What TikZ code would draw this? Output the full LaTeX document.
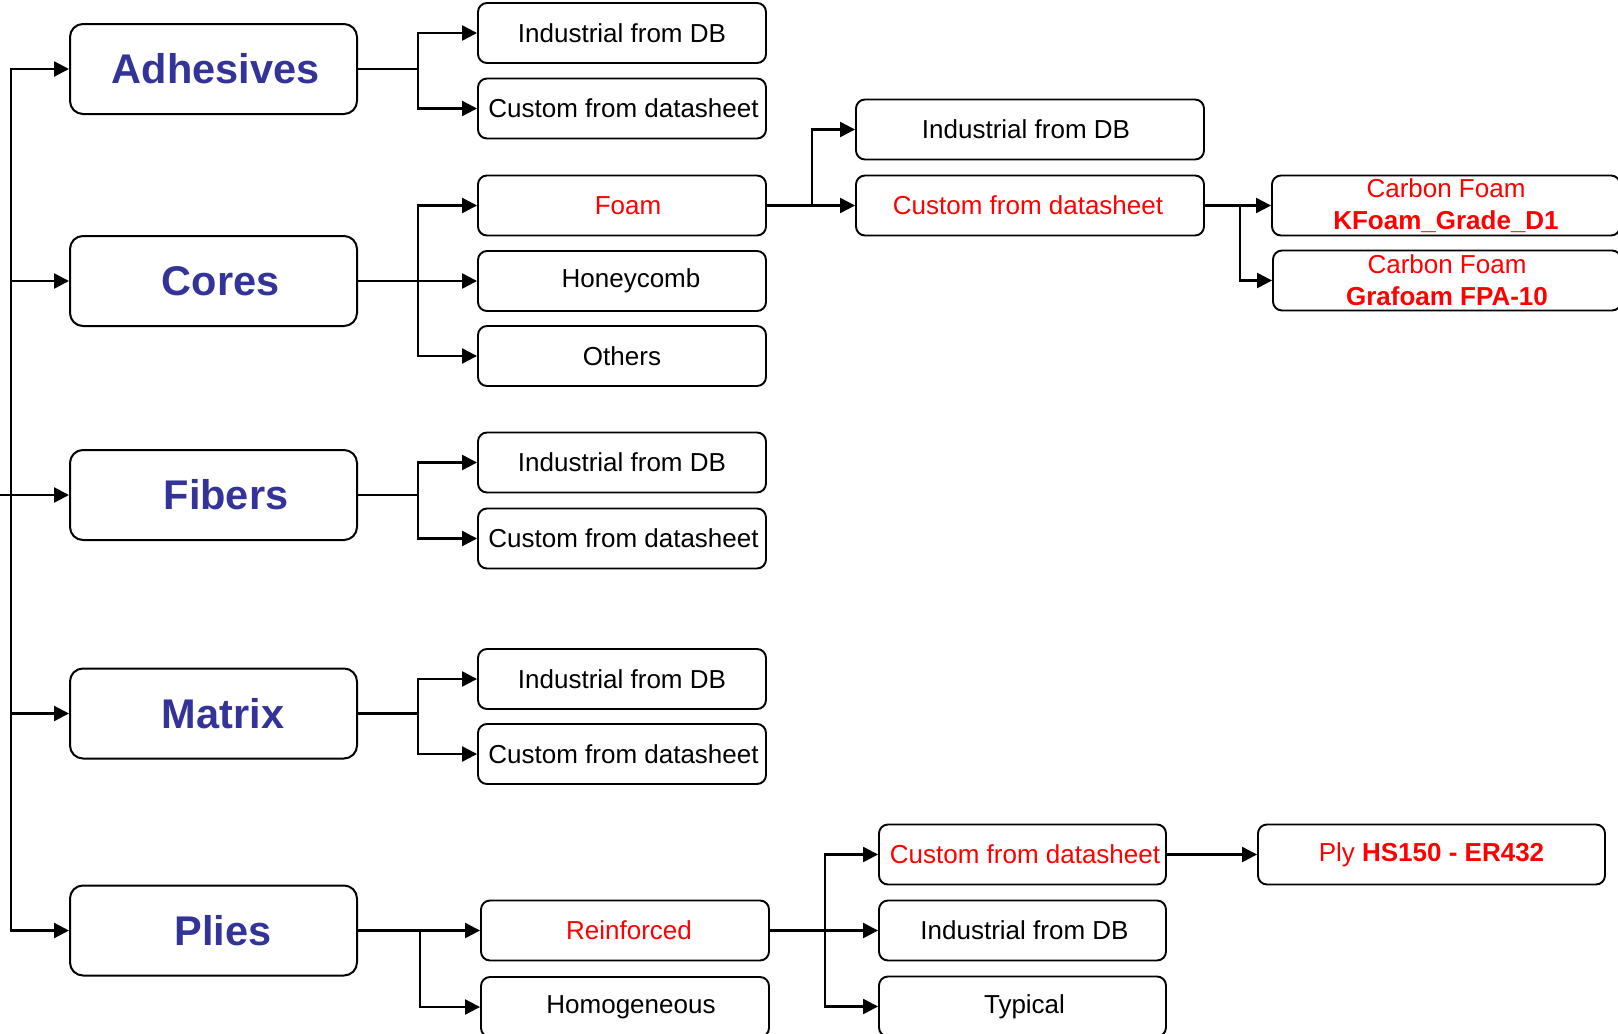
\documentclass[tikz,border=0pt]{standalone}
\usepackage{fontspec}
\setmainfont{Liberation Sans}
\usetikzlibrary{arrows.meta}
\definecolor{mblue}{HTML}{333399}
\definecolor{mred}{HTML}{FF0000}
\begin{document}
\begin{tikzpicture}[x=1pt,y=-1pt,
  mainbox/.style={draw, rounded corners=13pt, line width=2pt, minimum width=287pt, minimum height=90pt, text=mblue, font=\fontsize{41.5}{48}\selectfont\bfseries, inner sep=0pt},
  subbox/.style={draw, rounded corners=9pt, line width=1.9pt, minimum width=288pt, minimum height=60pt, font=\fontsize{26}{32}\selectfont, inner sep=0pt, align=center},
  redtxt/.style={text=mred},
  conn/.style={line width=2.3pt},
  arr/.style={conn, -{Triangle[length=15pt,width=15pt]}}]
\useasboundingbox (0,0) rectangle (1618,1034);
% main boxes
\node[mainbox] (adh) at (213.5,69) {\hspace*{4pt}Adhesives};
\node[mainbox] (cor) at (213.5,281) {\hspace*{14pt}Cores};
\node[mainbox] (fib) at (213.5,495) {\hspace*{25pt}Fibers};
\node[mainbox] (mat) at (213.5,713.5) {\hspace*{19pt}Matrix};
\node[mainbox] (pli) at (213.5,930.5) {\hspace*{19pt}Plies};
% first column children
\node[subbox] (adhI) at (622,33) {Industrial from DB};
\node[subbox] (adhC) at (622,108.5) {\hspace*{3pt}Custom from datasheet};
\node[subbox,redtxt] (foam) at (622,205.5) {\hspace*{12pt}Foam};
\node[subbox] (honey) at (622,281) {\hspace*{18pt}Honeycomb};
\node[subbox] (others) at (622,356) {Others};
\node[subbox] (fibI) at (622,462.5) {Industrial from DB};
\node[subbox] (fibC) at (622,538.5) {\hspace*{3pt}Custom from datasheet};
\node[subbox] (matI) at (622,679) {Industrial from DB};
\node[subbox] (matC) at (622,754) {\hspace*{3pt}Custom from datasheet};
\node[subbox,redtxt] (reinf) at (625,930.5) {\hspace*{8pt}Reinforced};
\node[subbox] (homog) at (625,1007) {\hspace*{12pt}Homogeneous};
% second column
\node[subbox,minimum width=348pt] (foamI) at (1030,129.5) {Industrial from DB\hspace*{8pt}};
\node[subbox,minimum width=348pt,redtxt] (foamC) at (1030,205.5) {Custom from datasheet\hspace*{4pt}};
\node[subbox,minimum width=287pt,redtxt] (pliC) at (1022.5,854.5) {\hspace*{5pt}Custom from datasheet};
\node[subbox,minimum width=287pt] (pliI) at (1022.5,930.5) {\hspace*{4pt}Industrial from DB};
\node[subbox,minimum width=287pt] (typ) at (1022.5,1006.5) {\hspace*{4pt}Typical};
% third column
\node[subbox,minimum width=348pt,redtxt] (kf) at (1446,205.5) {Carbon Foam\\\textbf{KFoam\_Grade\_D1}};
\node[subbox,minimum width=348pt,redtxt] (gf) at (1447,280.5) {Carbon Foam\\\textbf{Grafoam FPA-10}};
\node[subbox,minimum width=347pt,redtxt] (ply) at (1431.5,854.5) {Ply \textbf{HS150 - ER432}};
% spine
\coordinate (sp) at (11,69);
\coordinate (stub) at (0,495);
\draw[conn,line cap=rect] (sp) -- (sp |- pli.west);
\draw[arr] (sp |- adh.west) -- (adh.west);
\draw[arr] (sp |- cor.west) -- (cor.west);
\draw[arr] (stub) -- (fib.west);
\draw[arr] (sp |- mat.west) -- (mat.west);
\draw[arr] (sp |- pli.west) -- (pli.west);
% adhesives
\draw[arr] (adh.east) -- ++(60,0) |- (adhI.west);
\draw[arr] (adh.east) -- ++(60,0) |- (adhC.west);
% cores
\coordinate (jC) at ([xshift=60pt]cor.east);
\draw[arr] (cor.east) -- (honey.west);
\draw[arr] (jC) |- (foam.west);
\draw[arr] (jC) |- (others.west);
% fibers
\draw[arr] (fib.east) -- ++(60,0) |- (fibI.west);
\draw[arr] (fib.east) -- ++(60,0) |- (fibC.west);
% matrix
\draw[arr] (mat.east) -- ++(60,0) |- (matI.west);
\draw[arr] (mat.east) -- ++(60,0) |- (matC.west);
% plies
\coordinate (jP) at ([xshift=62pt]pli.east);
\draw[arr] (pli.east) -- (reinf.west);
\draw[arr] (jP) |- (homog.west);
% foam
\coordinate (jF) at ([xshift=45pt]foam.east);
\draw[arr] (foam.east) -- (foamC.west);
\draw[arr] (jF) |- (foamI.west);
% foam custom
\coordinate (jK) at ([xshift=35pt]foamC.east);
\draw[arr] (foamC.east) -- (kf.west);
\draw[arr] (jK) |- (gf.west);
% reinforced
\coordinate (jR) at ([xshift=55pt]reinf.east);
\draw[arr] (reinf.east) -- (pliI.west);
\draw[arr] (jR) |- (pliC.west);
\draw[arr] (jR) |- (typ.west);
% ply
\draw[arr] (pliC.east) -- (ply.west);
\end{tikzpicture}
\end{document}
